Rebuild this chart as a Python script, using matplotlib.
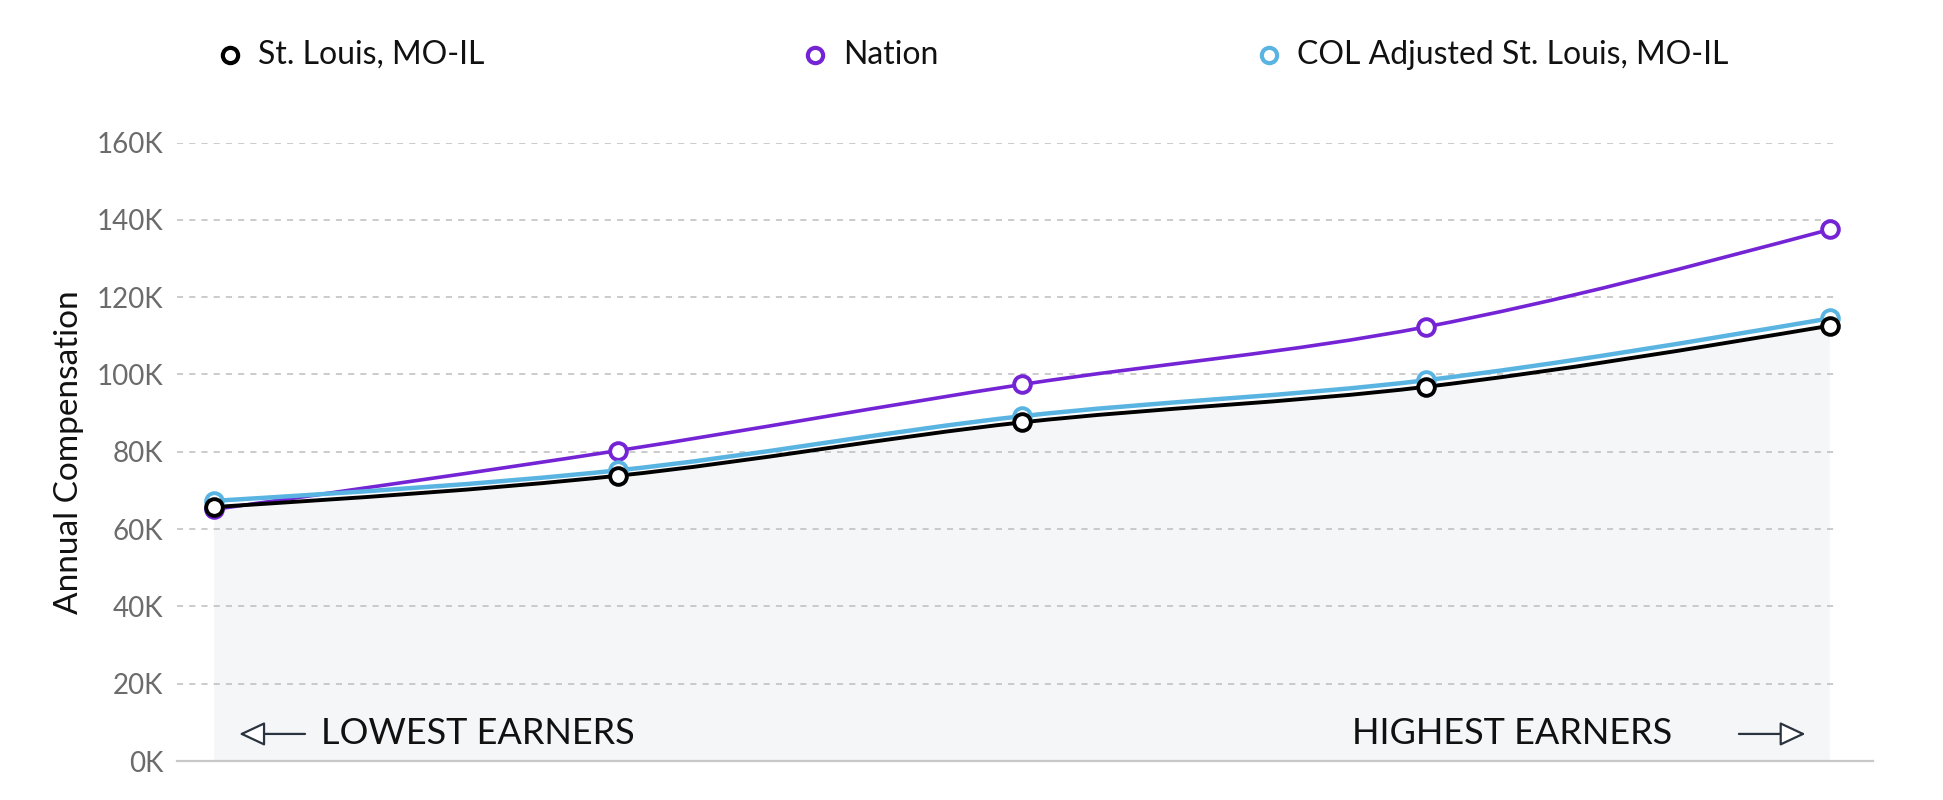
import matplotlib
matplotlib.use("Agg")
import matplotlib.pyplot as plt
import numpy as np
from matplotlib.path import Path
from matplotlib.patches import PathPatch

plt.rcParams['font.family'] = ['Lato', 'DejaVu Sans']

# ---- data ----
percentiles = ["10th", "25th", "50th", "75th", "90th"]
st_louis = [65.7, 73.8, 87.6, 96.8, 112.6]      # thousands
nation = [65.1, 80.3, 97.4, 112.3, 137.5]
col_adjusted = [67.3, 75.2, 89.2, 98.5, 114.5]
series_names = ["St. Louis, MO-IL", "Nation", "COL Adjusted St. Louis, MO-IL"]
yticks = [0, 20, 40, 60, 80, 100, 120, 140, 160]
ytick_labels = [f"{v}K" for v in yticks]

colors = ["#000000", "#7424d4", "#5ab4e2"]


def monotone_segments(x, y):
    x = np.asarray(x, float)
    y = np.asarray(y, float)
    n = len(x)
    h = np.diff(x)
    s = np.diff(y) / h
    m = np.zeros(n)
    for i in range(1, n - 1):
        h0, h1 = h[i - 1], h[i]
        s0, s1 = s[i - 1], s[i]
        p = (s0 * h1 + s1 * h0) / (h0 + h1)
        m[i] = (np.sign(s0) + np.sign(s1)) * min(abs(s0), abs(s1), 0.5 * abs(p))
    m[0] = (3 * s[0] - m[1]) / 2
    m[-1] = (3 * s[-1] - m[-2]) / 2
    verts = [(x[0], y[0])]
    codes = [Path.MOVETO]
    for i in range(n - 1):
        d = h[i] / 3
        verts += [(x[i] + d, y[i] + m[i] * d), (x[i + 1] - d, y[i + 1] - m[i + 1] * d), (x[i + 1], y[i + 1])]
        codes += [Path.CURVE4] * 3
    return verts, codes


fig = plt.figure(figsize=(19.43, 8), dpi=100)
ax = fig.add_axes([177 / 1943, 39 / 800, (1873 - 177) / 1943, (761 - 142.5) / 800])

xs = np.arange(len(percentiles))
ax.set_xlim(-0.092, 4.107)
ax.set_ylim(0, 160)

# fill under St. Louis curve
v, c = monotone_segments(xs, st_louis)
fv = v + [(xs[-1], 0), (xs[0], 0), (xs[0], st_louis[0])]
fc = c + [Path.LINETO, Path.LINETO, Path.CLOSEPOLY]
ax.add_patch(PathPatch(Path(fv, fc), facecolor="#f5f6f7", edgecolor="none", zorder=0))

# gridlines
for t in yticks[1:]:
    ax.hlines(t, -0.092, 4.01, colors="#bdbdbd", linestyles=(0, (4, 4)), linewidth=1.1, zorder=1)

order = [(nation, colors[1], 2.6), (col_adjusted, colors[2], 3.2), (st_louis, colors[0], 2.8)]
for vals, col, lw in order:
    v, c = monotone_segments(xs, vals)
    ax.add_patch(PathPatch(Path(v, c), facecolor="none", edgecolor=col, linewidth=lw, zorder=3,
                           capstyle="round", joinstyle="round"))
    ax.plot(xs, vals, linestyle="none", marker="o", markersize=12, markerfacecolor="white",
            markeredgecolor=col, markeredgewidth=2.8, zorder=4)

for s in ["top", "right", "left"]:
    ax.spines[s].set_visible(False)
ax.spines["bottom"].set_color("#c8c8c8")
ax.spines["bottom"].set_linewidth(1.6)
ax.set_xticks([])
ax.set_yticks(yticks)
ax.set_yticklabels(ytick_labels, color="#6b6b6b", fontsize=20)
ax.tick_params(axis="y", length=0, pad=10)
ax.set_ylabel("Annual Compensation", fontsize=24, color="#111111", labelpad=9)

# earners annotations
arrow_style = "-|>,head_length=1.6,head_width=0.75"
ax.annotate("", xy=(0.062, 7), xytext=(0.225, 7),
            arrowprops=dict(arrowstyle=arrow_style, fc="white", ec="#2a3440", lw=1.6, shrinkA=0, shrinkB=0))
ax.text(0.265, 7, "LOWEST EARNERS", fontsize=26, va="center", ha="left", color="#111111")
ax.annotate("", xy=(3.94, 7), xytext=(3.775, 7),
            arrowprops=dict(arrowstyle=arrow_style, fc="white", ec="#2a3440", lw=1.6, shrinkA=0, shrinkB=0))
ax.text(3.61, 7, "HIGHEST EARNERS", fontsize=26, va="center", ha="right", color="#111111")

# legend
leg_x_marker = [230, 815, 1269]
for name, col, xm in zip(series_names, colors, leg_x_marker):
    fig.lines.append(plt.Line2D([xm / 1943], [1 - 55 / 800], transform=fig.transFigure, marker="o",
                                markersize=11, markerfacecolor="white", markeredgecolor=col,
                                markeredgewidth=3.0, linestyle="none"))
    fig.text((xm + 28) / 1943, 1 - 55 / 800, name, fontsize=23, va="center", ha="left", color="#111111")

fig.savefig("out.png", dpi=100, facecolor="white")
